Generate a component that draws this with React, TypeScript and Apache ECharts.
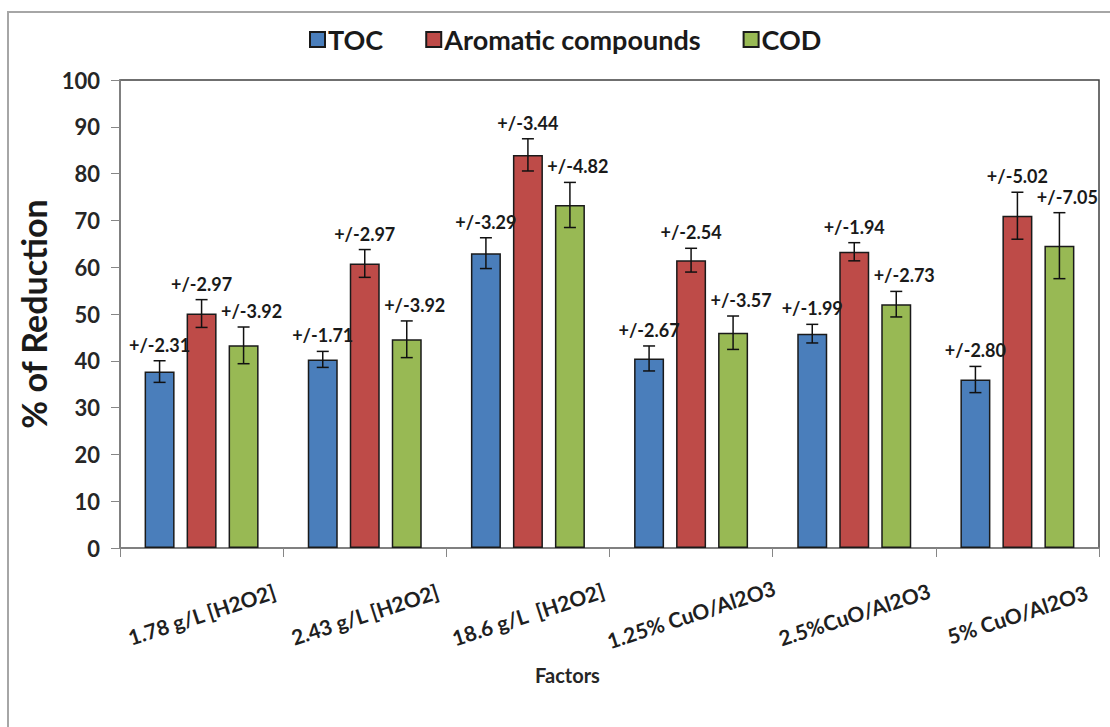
import React, { useEffect, useRef } from "react";
import * as echarts from "echarts";

const categories = [
  "1.78 g/L [H2O2]",
  "2.43 g/L [H2O2]",
  "18.6 g/L  [H2O2]",
  "1.25% CuO/Al2O3",
  "2.5%CuO/Al2O3",
  "5% CuO/Al2O3",
];
const seriesNames = ["TOC", "Aromatic compounds", "COD"];
const tocValues = [37.7, 40.3, 63.0, 40.5, 45.8, 36.0];
const tocErrors = [2.31, 1.71, 3.29, 2.67, 1.99, 2.8];
const aromaticValues = [50.1, 60.8, 84.0, 61.5, 63.3, 71.0];
const aromaticErrors = [2.97, 2.97, 3.44, 2.54, 1.94, 5.02];
const codValues = [43.3, 44.6, 73.3, 46.0, 52.1, 64.6];
const codErrors = [3.92, 3.92, 4.82, 3.57, 2.73, 7.05];

const FONT = "Lato, 'Open Sans', sans-serif";
const BAR_W = 30;
const BAR_GAP = 12;
const COLORS = ["#4A7EBB", "#BE4B48", "#98B954"];

function errSeries(name: string, values: number[], errors: number[], idx: number, labelDx: number) {
  const offset = (idx - 1) * (BAR_W + BAR_GAP);
  return {
    type: "custom",
    name,
    z: 10,
    silent: true,
    clip: false,
    data: values.map((v, i) => [i, v, errors[i]]),
    encode: { x: 0, y: 1 },
    renderItem: (params: any, api: any) => {
      const i = api.value(0);
      const v = api.value(1);
      const e = api.value(2);
      const top = api.coord([i, v + e]);
      const bot = api.coord([i, v - e]);
      const x = top[0] + offset;
      const cap = 6;
      const ls = { stroke: "#111", lineWidth: 1.5 };
      return {
        type: "group",
        children: [
          { type: "line", shape: { x1: x, y1: top[1], x2: x, y2: bot[1] }, style: ls },
          { type: "line", shape: { x1: x - cap, y1: top[1], x2: x + cap, y2: top[1] }, style: ls },
          { type: "line", shape: { x1: x - cap, y1: bot[1], x2: x + cap, y2: bot[1] }, style: ls },
          {
            type: "text",
            style: {
              text: "+/-" + Number(e).toFixed(2),
              x: x + labelDx,
              y: top[1] - 16,
              align: "center",
              verticalAlign: "middle",
              font: `bold 18px ${FONT}`,
              fill: "#1a1a1a",
            },
          },
        ],
      };
    },
  };
}

export default function App() {
  const ref = useRef<HTMLDivElement>(null);
  useEffect(() => {
    if (!ref.current) return;
    const chart = echarts.init(ref.current, null, { renderer: "svg" });
    const barBase = (name: string, data: number[], color: string) => ({
      type: "bar",
      name,
      data,
      barWidth: BAR_W,
      barGap: `${(BAR_GAP / BAR_W) * 100}%`,
      itemStyle: { color, borderColor: "#1a1a1a", borderWidth: 1.5 },
    });
    chart.setOption({
      animation: false,
      backgroundColor: "#ffffff",
      graphic: [
        {
          type: "rect",
          shape: { x: 8, y: 12, width: 1200, height: 800 },
          style: { fill: "none", stroke: "#a6a6a6", lineWidth: 2 },
          z: -1,
        },
      ],
      legend: {
        data: seriesNames,
        top: 21,
        left: 304,
        icon: "rect",
        itemWidth: 15,
        itemHeight: 15,
        itemGap: 42,
        textStyle: { fontFamily: FONT, fontWeight: "bold", fontSize: 27, color: "#1a1a1a", padding: [0, 0, 0, -2] },
      },
      grid: {
        left: 120,
        right: 11,
        top: 80,
        bottom: 179,
        show: true,
        borderColor: "#404040",
        borderWidth: 1.5,
      },
      xAxis: {
        type: "category",
        data: categories,
        axisLine: { lineStyle: { color: "#868686", width: 1.5 } },
        axisTick: { show: true, alignWithLabel: false, length: 9, lineStyle: { color: "#868686" } },
        axisLabel: {
          interval: 0,
          rotate: 18,
          align: "center",
          margin: 66,
          fontFamily: FONT,
          fontWeight: "bold",
          fontSize: 21,
          color: "#1f1f1f",
        },
        name: "Factors",
        nameLocation: "middle",
        nameGap: 117,
        nameTextStyle: {
          fontFamily: FONT,
          fontWeight: "bold",
          fontSize: 20,
          color: "#262626",
          padding: [0, 84, 0, 0],
        },
      },
      yAxis: {
        type: "value",
        min: 0,
        max: 100,
        interval: 10,
        splitLine: { show: false },
        axisLine: { show: true, lineStyle: { color: "#868686", width: 1.5 } },
        axisTick: { show: true, length: 9, lineStyle: { color: "#868686" } },
        axisLabel: {
          margin: 20,
          fontFamily: FONT,
          fontWeight: "bold",
          fontSize: 22,
          color: "#262626",
        },
        name: "% of Reduction",
        nameLocation: "middle",
        nameGap: 58,
        nameTextStyle: { fontFamily: FONT, fontWeight: "bold", fontSize: 34, color: "#1a1a1a" },
      },
      series: [
        barBase(seriesNames[0], tocValues, COLORS[0]),
        barBase(seriesNames[1], aromaticValues, COLORS[1]),
        barBase(seriesNames[2], codValues, COLORS[2]),
        errSeries("TOC error", tocValues, tocErrors, 0, 0),
        errSeries("Aromatic error", aromaticValues, aromaticErrors, 1, 0),
        errSeries("COD error", codValues, codErrors, 2, 8),
      ],
    });
    return () => chart.dispose();
  }, []);
  return (
    <div
      ref={ref}
      style={{ position: "absolute", left: 0, top: 0, width: 1110, height: 727, background: "#fff" }}
    />
  );
}
